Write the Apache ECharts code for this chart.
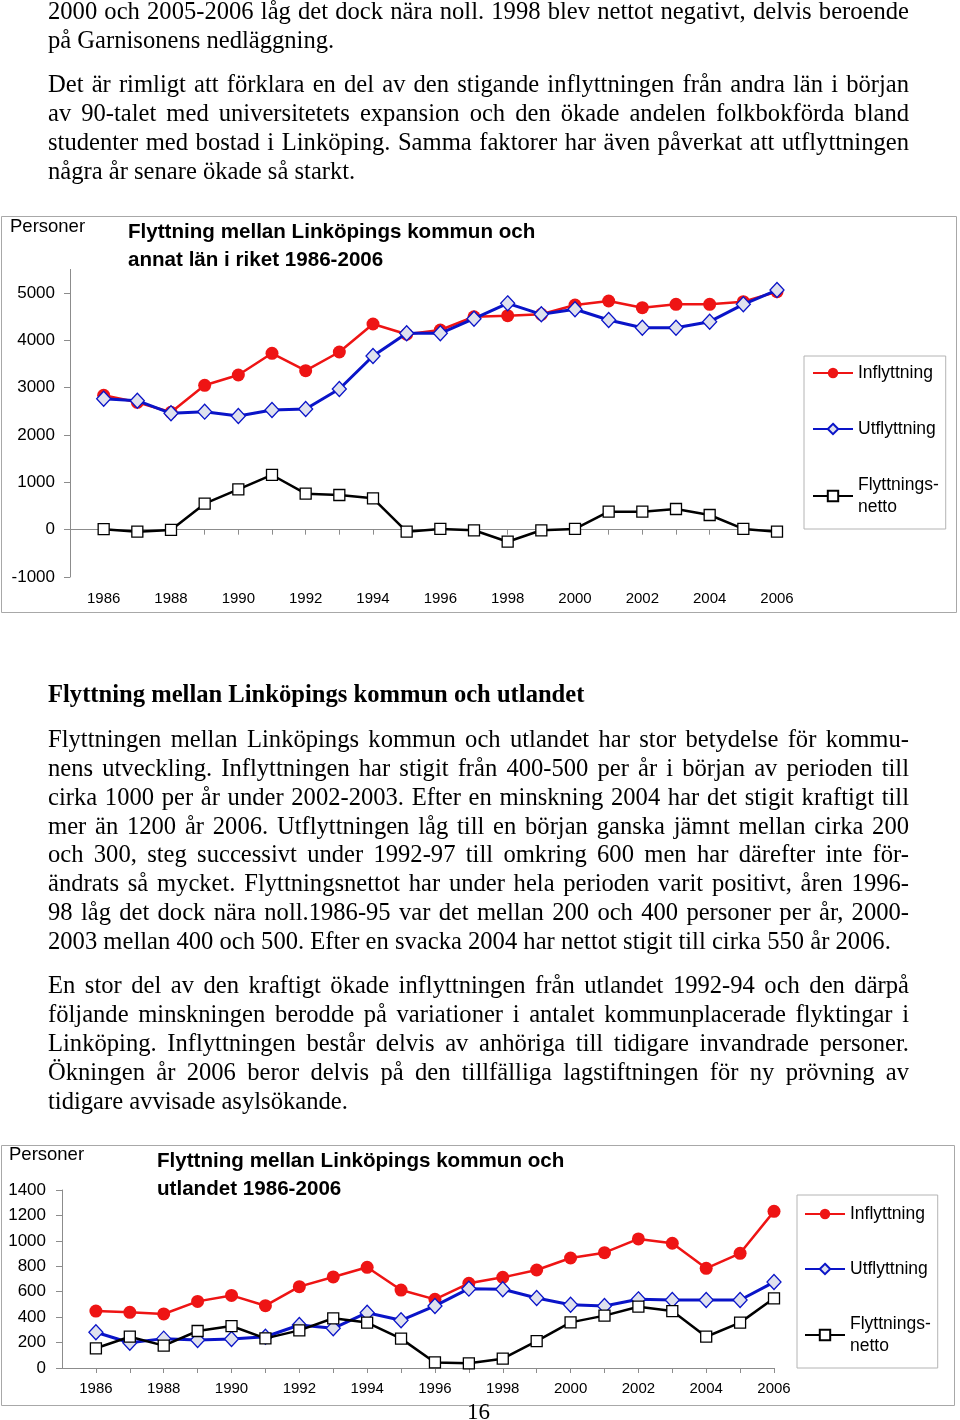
<!DOCTYPE html>
<html>
<head>
<meta charset="utf-8">
<script src="https://cdn.jsdelivr.net/npm/echarts@6/dist/echarts.min.js"></script>
<style>
  html, body { margin: 0; padding: 0; background: #fff; }
  body { width: 960px; height: 1420px; position: relative; overflow: hidden; }
  #chart { position: absolute; left: 0; top: 0; width: 960px; height: 1420px; }
  .ln { position: absolute; left: 48px; width: 861px; height: 29px; line-height: 29px;
        font-family: "Liberation Serif", "DejaVu Serif", serif; font-size: 24.6px; color: #000;
        text-align: justify; text-align-last: justify; white-space: nowrap; z-index: 2; }
  .ln.last { text-align: left; text-align-last: left; }
  .hd { font-weight: bold; text-align: left; text-align-last: left; }
</style>
</head>
<body>
<div id="chart"></div>
<div id="text"></div>
<script>
// ---------- data ----------
const years = [1986, 1987, 1988, 1989, 1990, 1991, 1992, 1993, 1994, 1995, 1996,
               1997, 1998, 1999, 2000, 2001, 2002, 2003, 2004, 2005, 2006];
const xLabelYears = [1986, 1988, 1990, 1992, 1994, 1996, 1998, 2000, 2002, 2004, 2006];

// Chart 1: annat län i riket
const lanInflyttning = [2840, 2692, 2480, 3051, 3268, 3727, 3360, 3755, 4346, 4130, 4219,
                        4500, 4522, 4551, 4748, 4832, 4691, 4762, 4762, 4818, 5029];
const lanUtflyttning = [2768, 2726, 2459, 2494, 2403, 2529, 2550, 2973, 3670, 4150, 4150,
                        4458, 4783, 4551, 4657, 4431, 4268, 4268, 4395, 4762, 5064];
const lanNetto = [10, -42, -6, 550, 853, 1156, 761, 733, 663, -42, 15,
                  -13, -254, -13, 15, 380, 380, 437, 310, 15, -42];
const yTicks1 = [-1000, 0, 1000, 2000, 3000, 4000, 5000];

// Chart 2: utlandet
const utlInflyttning = [448, 438, 425, 524, 571, 490, 640, 716, 792, 613, 540,
                        666, 713, 771, 865, 907, 1015, 981, 784, 902, 1232];
const utlUtflyttning = [281, 199, 231, 220, 228, 246, 338, 312, 435, 375, 488,
                        624, 619, 551, 498, 488, 540, 535, 535, 535, 676];
const utlNetto = [155, 246, 176, 291, 330, 233, 296, 391, 357, 231, 44,
                  37, 73, 212, 359, 412, 482, 448, 246, 357, 548];
const yTicks2 = [0, 200, 400, 600, 800, 1000, 1200, 1400];

const seriesNames = ['Inflyttning', 'Utflyttning', 'Flyttningsnetto'];

// ---------- text ----------
const textBlocks = [
  { c: 11, t: '2000 och 2005-2006 låg det dock nära noll. 1998 blev nettot negativt, delvis beroende' },
  { c: 40, t: 'på Garnisonens nedläggning.', last: true },
  { c: 84, t: 'Det är rimligt att förklara en del av den stigande inflyttningen från andra län i början' },
  { c: 113, t: 'av 90-talet med universitetets expansion och den ökade andelen folkbokförda bland' },
  { c: 142, t: 'studenter med bostad i Linköping. Samma faktorer har även påverkat att utflyttningen' },
  { c: 171, t: 'några år senare ökade så starkt.', last: true },
  { c: 694, t: 'Flyttning mellan Linköpings kommun och utlandet', last: true, hd: true },
  { c: 739, t: 'Flyttningen mellan Linköpings kommun och utlandet har stor betydelse för kommu-' },
  { c: 768, t: 'nens utveckling. Inflyttningen har stigit från 400-500 per år i början av perioden till' },
  { c: 797, t: 'cirka 1000 per år under 2002-2003. Efter en minskning 2004 har det stigit kraftigt till' },
  { c: 826, t: 'mer än 1200 år 2006. Utflyttningen låg till en början ganska jämnt mellan cirka 200' },
  { c: 854, t: 'och 300, steg successivt under 1992-97 till omkring 600 men har därefter inte för-' },
  { c: 883, t: 'ändrats så mycket. Flyttningsnettot har under hela perioden varit positivt, åren 1996-' },
  { c: 912, t: '98 låg det dock nära noll.1986-95 var det mellan 200 och 400 personer per år, 2000-' },
  { c: 941, t: '2003 mellan 400 och 500. Efter en svacka 2004 har nettot stigit till cirka 550 år 2006.', last: true },
  { c: 985, t: 'En stor del av den kraftigt ökade inflyttningen från utlandet 1992-94 och den därpå' },
  { c: 1014, t: 'följande minskningen berodde på variationer i antalet kommunplacerade flyktingar i' },
  { c: 1043, t: 'Linköping. Inflyttningen består delvis av anhöriga till tidigare invandrade personer.' },
  { c: 1072, t: 'Ökningen år 2006 beror delvis på den tillfälliga lagstiftningen för ny prövning av' },
  { c: 1101, t: 'tidigare avvisade asylsökande.', last: true }
];
const textHost = document.getElementById('text');
textBlocks.forEach(b => {
  const d = document.createElement('div');
  d.className = 'ln' + (b.last ? ' last' : '') + (b.hd ? ' hd' : '');
  d.style.top = (b.c - 15) + 'px';
  d.textContent = b.t;
  textHost.appendChild(d);
});
const pg = document.createElement('div');
pg.className = 'ln last';
pg.style.left = '467px'; pg.style.width = '40px'; pg.style.top = '1397px'; pg.style.fontSize = '23px';
pg.textContent = '16';
textHost.appendChild(pg);

// ---------- chart ----------
const FONT = '"Liberation Sans", Arial, sans-serif';
const pairs = arr => years.map((y, i) => [y, arr[i]]);
const plain = v => String(v);

function yAxisDef(gridIndex, min, max, interval, ticks, margin) {
  return {
    gridIndex, type: 'value', min, max, interval,
    axisLine: { show: true, onZero: false, lineStyle: { color: '#8c8c8c', width: 1 } },
    axisTick: { show: true, length: 6, customValues: ticks, lineStyle: { color: '#8c8c8c' } },
    axisLabel: { customValues: ticks, formatter: plain, fontFamily: FONT, fontSize: 17, color: '#000', margin },
    splitLine: { show: false }
  };
}
function xLabelAxis(gridIndex, margin) {
  return {
    gridIndex, type: 'value', min: 1985, max: 2006, position: 'bottom',
    axisLine: { show: false, onZero: false },
    axisTick: { show: false },
    axisLabel: { customValues: xLabelYears, formatter: plain, fontFamily: FONT, fontSize: 15, color: '#000', margin },
    splitLine: { show: false }
  };
}
function xZeroAxis(gridIndex) {
  return {
    gridIndex, type: 'value', min: 1985, max: 2006, position: 'top',
    axisLine: { show: true, onZero: true, lineStyle: { color: '#8c8c8c', width: 1 } },
    axisTick: { show: true, inside: true, length: 5, customValues: years, lineStyle: { color: '#8c8c8c' } },
    axisLabel: { show: false },
    splitLine: { show: false }
  };
}
function seriesSet(xAxisIndex, yAxisIndex, inn, ut, net) {
  return [
    { name: seriesNames[0], type: 'line', xAxisIndex, yAxisIndex, data: pairs(inn),
      symbol: 'circle', symbolSize: 13, showAllSymbol: true,
      lineStyle: { color: '#ee1414', width: 2.5 },
      itemStyle: { color: '#ee1414', borderWidth: 0 }, z: 2 },
    { name: seriesNames[1], type: 'line', xAxisIndex, yAxisIndex, data: pairs(ut),
      symbol: 'diamond', symbolSize: [14, 15], showAllSymbol: true,
      lineStyle: { color: '#0a14c8', width: 3 },
      itemStyle: { color: '#dfe1ee', borderColor: '#0a14c8', borderWidth: 1.3 }, z: 3 },
    { name: seriesNames[2], type: 'line', xAxisIndex, yAxisIndex, data: pairs(net),
      symbol: 'rect', symbolSize: 11, showAllSymbol: true,
      lineStyle: { color: '#000', width: 2.5 },
      itemStyle: { color: '#fff', borderColor: '#000', borderWidth: 1.3 }, z: 4 }
  ];
}
function legendDef(left, top, padding, gap) {
  return {
    orient: 'vertical', left, top, padding, itemGap: gap,
    itemWidth: 40, itemHeight: 13,
    backgroundColor: '#fff', borderColor: '#b4b4b4', borderWidth: 1, borderRadius: 0,
    data: seriesNames,
    formatter: n => n === 'Flyttningsnetto' ? 'Flyttnings-\nnetto' : n,
    textStyle: { fontFamily: FONT, fontSize: 17.5, color: '#000', lineHeight: 22 },
    selectedMode: false
  };
}

const chart = echarts.init(document.getElementById('chart'), null, { renderer: 'canvas' });
chart.setOption({
  animation: false,
  backgroundColor: 'transparent',
  title: [
    { text: 'Flyttning mellan Linköpings kommun och\nannat län i riket 1986-2006', left: 128, top: 218, padding: 0,
      textStyle: { fontFamily: FONT, fontSize: 20.6, fontWeight: 'bold', color: '#000', lineHeight: 28 } },
    { text: 'Personer', left: 10, top: 217, padding: 0,
      textStyle: { fontFamily: FONT, fontSize: 18.5, fontWeight: 'normal', color: '#000' } },
    { text: 'Flyttning mellan Linköpings kommun och\nutlandet 1986-2006', left: 157, top: 1147, padding: 0,
      textStyle: { fontFamily: FONT, fontSize: 20.6, fontWeight: 'bold', color: '#000', lineHeight: 28 } },
    { text: 'Personer', left: 9, top: 1145, padding: 0,
      textStyle: { fontFamily: FONT, fontSize: 18.5, fontWeight: 'normal', color: '#000' } }
  ],
  graphic: [
    { type: 'rect', shape: { x: 1.5, y: 216.5, width: 955, height: 396 }, silent: true, z: -10,
      style: { fill: 'none', stroke: '#a8a8a8', lineWidth: 1 } },
    { type: 'rect', shape: { x: 1.5, y: 1145.5, width: 953, height: 260 }, silent: true, z: -10,
      style: { fill: 'none', stroke: '#a8a8a8', lineWidth: 1 } }
  ],
  legend: [
    legendDef(804, 356, [6, 7, 11, 8], 34),
    legendDef(797, 1195, [8, 7, 11, 7], 33)
  ],
  grid: [
    { left: 70, right: 183, top: 269.4, height: 307.6, outerBoundsMode: 'none', containLabel: false },
    { left: 62, right: 186, top: 1190, height: 178, outerBoundsMode: 'none', containLabel: false }
  ],
  xAxis: [
    xLabelAxis(0, 14), xZeroAxis(0),
    xLabelAxis(1, 13), xZeroAxis(1)
  ],
  yAxis: [
    yAxisDef(0, -1000, 5500, 1000, yTicks1, 15),
    yAxisDef(1, 0, 1400, 200, yTicks2, 16)
  ],
  series: [
    ...seriesSet(0, 0, lanInflyttning, lanUtflyttning, lanNetto),
    ...seriesSet(2, 1, utlInflyttning, utlUtflyttning, utlNetto)
  ]
});
</script>
</body>
</html>
